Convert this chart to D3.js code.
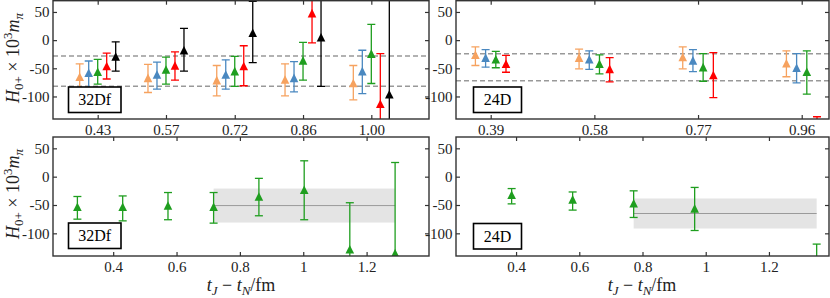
<!DOCTYPE html>
<html>
<head>
<meta charset="utf-8">
<script src="https://cdn.jsdelivr.net/npm/d3@7"></script>
<style>
  body { margin: 0; background: #fff; }
  svg { display: block; font-family: "Liberation Serif", serif; }
</style>
</head>
<body>
<div id="chart"></div>
<script>
// ---- data ----
// top row: one group of points per source-sink separation
const t32 = [0.430, 0.573, 0.717, 0.860, 1.003];
const t32Labels = ['0.43', '0.57', '0.72', '0.86', '1.00'];
const t24 = [0.386, 0.579, 0.772, 0.965];
const t24Labels = ['0.39', '0.58', '0.77', '0.96'];

const orange32 = [-65, -67, -71, -70, -76];
const orange32Lo = [-89, -93, -99, -99, -106];
const orange32Hi = [-42, -43, -45, -42, -45];
const blue32 = [-58, -61, -61, -67, -55];
const blue32Lo = [-86, -87, -87, -92, -95];
const blue32Hi = [-37, -39, -35, -38, -18];
const green32 = [-56, -52, -55, -36, -24];
const green32Lo = [-78, -78, -82, -71, -77];
const green32Hi = [-34, -30, -29, -4, 28];
const red32 = [-46, -45, -46, 48, -113];
const red32Lo = [-69, -71, -81, -5, -200];
const red32Hi = [-23, -21, -10, 95, -24];
const black32 = [-29, -18, 13, 5, -96];
const black32Lo = [-55, -55, -40, -82, -300];
const black32Hi = [-3, 21, 69, 110, 150];
const dashed32 = [-28, -82];

const orange24 = [-26, -31, -30, -41];
const orange24Lo = [-45, -51, -51, -65];
const orange24Hi = [-12, -16, -12, -19];
const blue24 = [-31, -34, -36, -49];
const blue24Lo = [-48, -52, -56, -76];
const blue24Hi = [-17, -19, -17, -24];
const green24 = [-34, -42, -48, -56];
const green24Lo = [-49, -60, -73, -96];
const green24Hi = [-20, -26, -24, -19];
const red24 = [-42, -51, -62, -160];
const red24Lo = [-57, -74, -102, -190];
const red24Hi = [-27, -31, -22, -136];
const dashed24 = [-24, -72];

// bottom row: summed values vs t_J - t_N
const tSum32 = [0.287, 0.430, 0.573, 0.717, 0.860, 1.003, 1.147, 1.290];
const sum32 = [-53, -53, -51, -53, -35, -23, -128, -135];
const sum32Lo = [-75, -78, -76, -82, -69, -76, -210, -300];
const sum32Hi = [-35, -34, -28, -28, -3, 28, -46, 25];
const fit32 = { from: 0.717, to: 1.290, value: -51, err: 30 };

const tSum24 = [0.386, 0.579, 0.772, 0.965, 1.351];
const sum24 = [-32, -40, -47, -56, -160];
const sum24Lo = [-48, -59, -72, -95, -200];
const sum24Hi = [-21, -27, -25, -19, -119];
const fit24 = { from: 0.772, to: 1.351, value: -65, err: 26.5 };

const yTicks = [50, 0, -50, -100];
const tTicks = [0.4, 0.6, 0.8, 1.0, 1.2];
const tTickLabels = ['0.4', '0.6', '0.8', '1', '1.2'];

const colOrange = '#f6a25f', colBlue = '#4a88c0', colGreen = '#1f9e1f', colRed = '#ff0000', colBlack = '#000000';

const width = 830, height = 298;
const svg = d3.select('#chart').append('svg')
    .attr('width', width)
    .attr('height', height);

const frameColor = '#333';
const fontSize = 15;

function makeSeries(ts, vals, lo, hi, color, shift) {
    return vals.map((v, i) => ({ t: ts[i], v: v, lo: lo[i], hi: hi[i], color: color, shift: shift }));
}

function trianglePath(r) {
    return `M0,${-r}L${r},${r}L${-r},${r}Z`;
}

let clipId = 0;

function drawPanel(opt) {
    const x = d3.scaleLinear().domain(opt.xDomain).range([opt.left, opt.right]);
    const y = d3.scaleLinear().domain([-140, 70]).range([opt.bottom, opt.top]);

    const g = svg.append('g');
    const id = 'clip' + (clipId++);
    svg.append('clipPath').attr('id', id)
        .append('rect')
        .attr('x', opt.left).attr('y', opt.top)
        .attr('width', opt.right - opt.left).attr('height', opt.bottom - opt.top);

    const plot = g.append('g').attr('clip-path', `url(#${id})`);

    // fit band
    if (opt.band) {
        const b = opt.band;
        plot.append('rect')
            .attr('x', x(b.from)).attr('width', x(b.to) - x(b.from))
            .attr('y', y(b.value + b.err)).attr('height', y(b.value - b.err) - y(b.value + b.err))
            .attr('fill', '#e4e4e4');
        plot.append('line')
            .attr('x1', x(b.from)).attr('x2', x(b.to))
            .attr('y1', y(b.value)).attr('y2', y(b.value))
            .attr('stroke', '#9a9a9a').attr('stroke-width', 1);
    }

    // dashed reference lines
    (opt.dashed || []).forEach(v => {
        plot.append('line')
            .attr('x1', opt.left).attr('x2', opt.right)
            .attr('y1', y(v)).attr('y2', y(v))
            .attr('stroke', '#999').attr('stroke-width', 1.5)
            .attr('stroke-dasharray', '5,3');
    });

    // error bars and markers
    opt.series.forEach(s => {
        const pts = plot.append('g').selectAll('g')
            .data(s)
            .join('g')
            .attr('transform', d => `translate(${x(d.t) + d.shift},0)`);
        pts.append('line')
            .attr('y1', d => y(d.lo)).attr('y2', d => y(d.hi))
            .attr('stroke', d => d.color).attr('stroke-width', 1.3);
        pts.append('line')
            .attr('x1', -4).attr('x2', 4)
            .attr('y1', d => y(d.lo)).attr('y2', d => y(d.lo))
            .attr('stroke', d => d.color).attr('stroke-width', 1.3);
        pts.append('line')
            .attr('x1', -4).attr('x2', 4)
            .attr('y1', d => y(d.hi)).attr('y2', d => y(d.hi))
            .attr('stroke', d => d.color).attr('stroke-width', 1.3);
        pts.append('path')
            .attr('d', trianglePath(4.3))
            .attr('transform', d => `translate(0,${y(d.v)})`)
            .attr('fill', d => d.color);
    });

    // axes with inward ticks
    const xb = d3.axisBottom(x).tickValues(opt.xTicks).tickSize(-4).tickPadding(5.5)
        .tickFormat((d, i) => opt.xLabels[i]);
    const xt = d3.axisTop(x).tickValues(opt.xTicks).tickSize(-4).tickFormat('');
    const yl = d3.axisLeft(y).tickValues(yTicks).tickSize(-4).tickPadding(3.5).tickFormat(d => String(d));
    const yr = d3.axisRight(y).tickValues(yTicks).tickSize(-4).tickFormat('');

    [[xb, `translate(0,${opt.bottom})`], [xt, `translate(0,${opt.top})`],
     [yl, `translate(${opt.left},0)`], [yr, `translate(${opt.right},0)`]].forEach(([ax, tr]) => {
        const a = g.append('g').attr('transform', tr).call(ax);
        a.select('.domain').remove();
        a.selectAll('line').attr('stroke', frameColor).attr('stroke-width', 1.2);
        a.selectAll('text')
            .attr('fill', '#222')
            .style('font-family', '"Liberation Serif", serif')
            .style('font-size', fontSize + 'px');
    });

    g.append('rect')
        .attr('x', opt.left).attr('y', opt.top)
        .attr('width', opt.right - opt.left).attr('height', opt.bottom - opt.top)
        .attr('fill', 'none').attr('stroke', frameColor).attr('stroke-width', 1.4);

    // ensemble label
    const lb = opt.labelBox;
    g.append('rect')
        .attr('x', lb[0]).attr('y', lb[1]).attr('width', lb[2]).attr('height', lb[3])
        .attr('fill', '#fff').attr('stroke', '#000').attr('stroke-width', 1.6);
    g.append('text')
        .attr('x', lb[0] + lb[2] / 2).attr('y', lb[1] + lb[3] / 2)
        .attr('dy', '0.35em')
        .attr('text-anchor', 'middle')
        .style('font-size', '16px')
        .text(opt.label);
}

function yAxisLabel(cx, cy) {
    const t = svg.append('text')
        .attr('transform', `translate(${cx},${cy}) rotate(-90)`)
        .attr('text-anchor', 'middle')
        .style('font-size', '18px')
        .attr('fill', '#222');
    t.append('tspan').style('font-style', 'italic').text('H');
    t.append('tspan').attr('dy', 4).style('font-size', '13px').text('0+');
    t.append('tspan').attr('dy', -4).text(' \u00d7 10');
    t.append('tspan').attr('dy', -7).style('font-size', '13px').text('3');
    t.append('tspan').attr('dy', 7).style('font-style', 'italic').text('m');
    t.append('tspan').attr('dy', 4).style('font-size', '13px').style('font-style', 'italic').text('\u03c0');
}

function xAxisLabel(cx, by) {
    const t = svg.append('text')
        .attr('x', cx).attr('y', by)
        .attr('text-anchor', 'middle')
        .style('font-size', '18px')
        .attr('fill', '#222');
    t.append('tspan').style('font-style', 'italic').text('t');
    t.append('tspan').attr('dy', 4).style('font-size', '13px').style('font-style', 'italic').text('J');
    t.append('tspan').attr('dy', -4).text(' \u2212 ');
    t.append('tspan').style('font-style', 'italic').text('t');
    t.append('tspan').attr('dy', 4).style('font-size', '13px').style('font-style', 'italic').text('N');
    t.append('tspan').attr('dy', -4).text('/fm');
}

const step32 = 9, step24 = 10.2;

drawPanel({
    left: 53, right: 429, top: 0.7, bottom: 119,
    xDomain: [0.3364, 1.1238], xTicks: t32, xLabels: t32Labels,
    dashed: dashed32,
    series: [
        makeSeries(t32, orange32, orange32Lo, orange32Hi, colOrange, -2 * step32),
        makeSeries(t32, blue32, blue32Lo, blue32Hi, colBlue, -step32),
        makeSeries(t32, green32, green32Lo, green32Hi, colGreen, 0),
        makeSeries(t32, red32, red32Lo, red32Hi, colRed, step32),
        makeSeries(t32, black32, black32Lo, black32Hi, colBlack, 2 * step32)
    ],
    labelBox: [68.5, 87, 52.5, 25.5], label: '32Df'
});

drawPanel({
    left: 456, right: 829, top: 0.7, bottom: 119,
    xDomain: [0.3214, 1.0158], xTicks: t24, xLabels: t24Labels,
    dashed: dashed24,
    series: [
        makeSeries(t24, orange24, orange24Lo, orange24Hi, colOrange, -1.5 * step24),
        makeSeries(t24, blue24, blue24Lo, blue24Hi, colBlue, -0.5 * step24),
        makeSeries(t24, green24, green24Lo, green24Hi, colGreen, 0.5 * step24),
        makeSeries(t24, red24, red24Lo, red24Hi, colRed, 1.5 * step24)
    ],
    labelBox: [473.5, 87, 48, 25.5], label: '24D'
});

drawPanel({
    left: 53, right: 429, top: 137, bottom: 256,
    xDomain: [0.21, 1.397], xTicks: tTicks, xLabels: tTickLabels,
    band: fit32,
    series: [makeSeries(tSum32, sum32, sum32Lo, sum32Hi, colGreen, 0)],
    labelBox: [68.5, 223, 52.5, 25.5], label: '32Df'
});

drawPanel({
    left: 456, right: 829, top: 137, bottom: 256,
    xDomain: [0.21, 1.39], xTicks: tTicks, xLabels: tTickLabels,
    band: fit24,
    series: [makeSeries(tSum24, sum24, sum24Lo, sum24Hi, colGreen, 0)],
    labelBox: [473.5, 223.5, 48, 25.5], label: '24D'
});

yAxisLabel(19, 58);
yAxisLabel(19, 194);
xAxisLabel(241, 291);
xAxisLabel(642, 291);
</script>
</body>
</html>
